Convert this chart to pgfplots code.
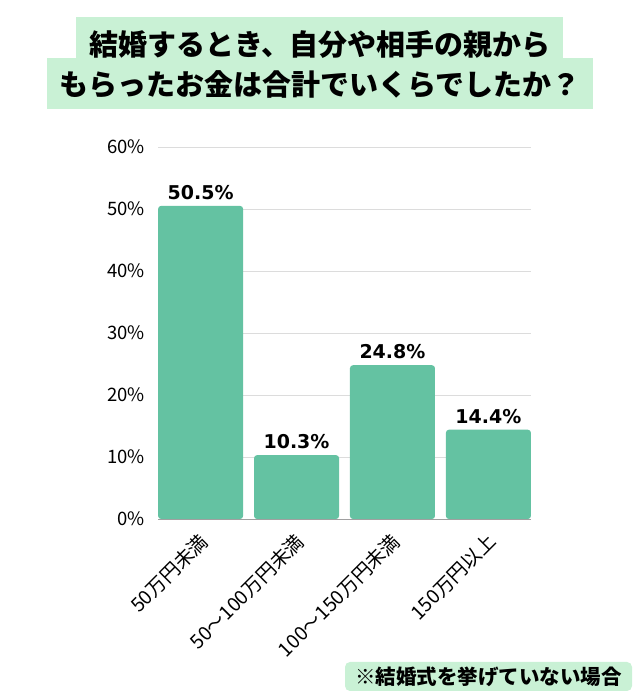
\documentclass[border=0pt]{standalone}
\usepackage{fontspec}
\usepackage{pgfplots}
\pgfplotsset{compat=1.18}
\setmainfont{Noto Sans CJK JP}
\newfontfamily\numbold{DejaVu Sans}
\definecolor{barc}{HTML}{64C2A2}
\definecolor{boxc}{HTML}{C9F1D5}
\definecolor{gridc}{HTML}{DCDCDC}
\definecolor{basec}{HTML}{A0A0A0}

\begin{document}
\begin{tikzpicture}
\path[use as bounding box] (0pt,0pt) rectangle (640pt,700pt);
% title boxes
\fill[boxc] (76pt,683pt) rectangle (563pt,628pt);
\fill[boxc] (47pt,642pt) rectangle (593pt,591pt);
\node[font=\fontsize{29}{31}\selectfont\bfseries] at (320pt,655.5pt) {結婚するとき、自分や相手の親から};
\node[font=\fontsize{29}{31}\selectfont\bfseries] at (320pt,616pt) {もらったお金は合計でいくらでしたか？};
% footnote
\fill[boxc, rounded corners=5pt] (345pt,38pt) rectangle (632pt,9pt);
\node[font=\fontsize{20.5}{22}\selectfont\bfseries] at (488.5pt,23.5pt) {※結婚式を挙げていない場合};

\begin{axis}[
  at={(158pt,181pt)}, anchor=south west,
  scale only axis, width=373pt, height=372pt,
  xmin=-0.444, xmax=3.444,
  ymin=0, ymax=60,
  ytick={10,20,30,40,50,60},
  extra y ticks={0}, extra y tick labels={0\%},
  extra y tick style={major grid style={draw=basec, line width=0.8pt}},
  xtick={0,1,2,3},
  xticklabels={50万円未満, 50～100万円未満, 100～150万円未満, 150万円以上},
  yticklabel={\pgfmathprintnumber{\tick}\%},
  /pgf/number format/assume math mode=true,
  ymajorgrids,
  major grid style={draw=gridc, line width=0.8pt},
  axis line style={draw=none},
  major tick length=0pt,
  yticklabel style={font=\fontsize{18.5}{18.5}\selectfont, anchor=east, inner sep=0pt, xshift=-13pt},
  xticklabel style={xshift=-2.5pt, yshift=-12.5pt, font=\fontsize{19.5}{19.5}\selectfont, rotate=45, anchor=north east, inner sep=0pt},
  nodes near coords={\pgfmathprintnumber[fixed,fixed zerofill,precision=1]{\pgfplotspointmeta}\%},
  every node near coord/.append style={font=\numbold\fontsize{19}{19}\selectfont\bfseries, anchor=south, inner sep=0pt, yshift=6pt, text=black},
  clip=false,
]
\addplot[ybar, fill=barc, draw=none, bar width=85pt, bar shift=0pt, rounded corners=3pt]
  coordinates {(0,50.5) (1,10.3) (2,24.8) (3,14.4)};
\end{axis}
\end{tikzpicture}
\end{document}
